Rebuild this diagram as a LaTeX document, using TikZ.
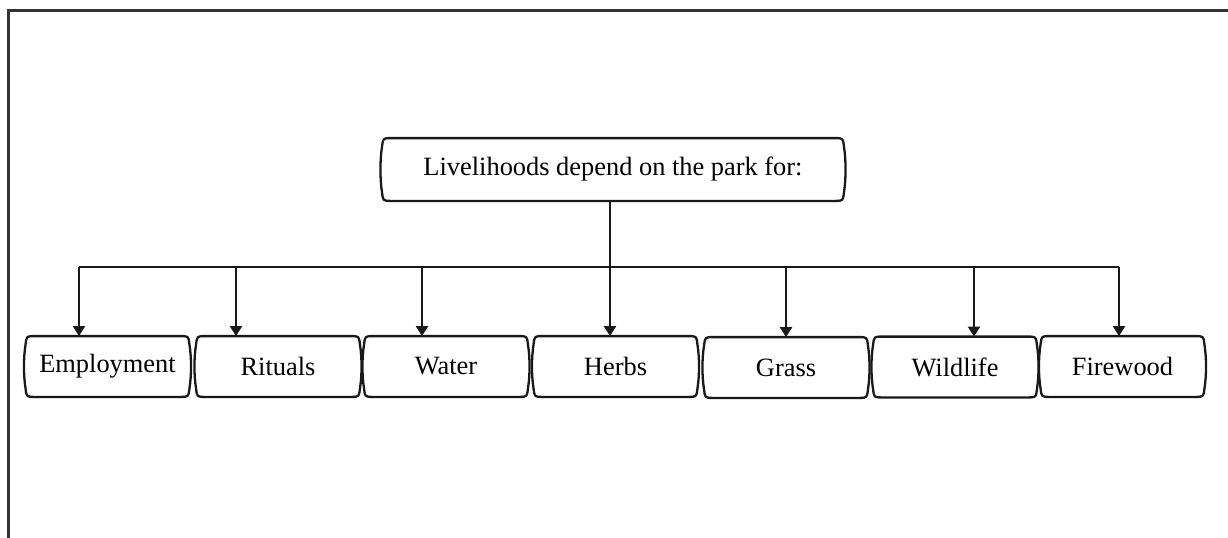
\documentclass[tikz,border=0pt]{standalone}
\usepackage{fontspec}
\setmainfont{Liberation Serif}
\usetikzlibrary{arrows.meta}
% outline with rounded corners and slightly bowed sides around a named node
\newcommand\softbox[1]{%
  \draw[boxline] ([xshift=4pt]#1.north west) -- ([xshift=-4pt]#1.north east)
    .. controls (#1.north east) .. ([xshift=0.5pt,yshift=-4pt]#1.north east)
    .. controls ([xshift=1.6pt,yshift=-11pt]#1.north east) and ([xshift=1.6pt,yshift=11pt]#1.south east) .. ([xshift=0.5pt,yshift=4pt]#1.south east)
    .. controls (#1.south east) .. ([xshift=-4pt]#1.south east)
    -- ([xshift=4pt]#1.south west)
    .. controls (#1.south west) .. ([xshift=-0.5pt,yshift=4pt]#1.south west)
    .. controls ([xshift=-1.6pt,yshift=11pt]#1.south west) and ([xshift=-1.6pt,yshift=-11pt]#1.north west) .. ([xshift=-0.5pt,yshift=-4pt]#1.north west)
    .. controls (#1.north west) .. ([xshift=4pt]#1.north west) -- cycle;}
\begin{document}
\begin{tikzpicture}[x=0.5pt,y=0.5pt,
  frame/.style={draw=black!80,line width=1.3pt},
  boxline/.style={draw=black!90,line width=1.15pt,line join=round},
  box/.style={rectangle,minimum width=80.5pt,minimum height=30pt,inner sep=0pt,
    font=\fontsize{13.2pt}{15pt}\selectfont},
  link/.style={draw=black!90,line width=1.1pt},
  arr/.style={link,-{Triangle[width=6pt,length=5pt]}}]
\useasboundingbox (0,0) rectangle (1228,-537);
% open frame: top and left edges only
\draw[frame] (8.5,-545) -- (8.5,-10.5) -- (1240,-10.5);

% root
\node[box,minimum width=229.5pt,minimum height=31pt] (root) at (613,-169.5)
  {Livelihoods depend on the park for:};

% leaves
\node[box] (emp)  at (107.5,-366.5) {Employment};
\node[box] (rit)  at (278,-366.5)   {Rituals};
\node[box] (wat)  at (446,-366.5)   {Water};
\node[box] (herb) at (615.5,-366.5) {Herbs};
\node[box] (gra)  at (786,-367.5)   {Grass};
\node[box] (wild) at (955,-367)     {Wildlife};
\node[box] (fire) at (1122.5,-366.5)  {Firewood};

\foreach \n in {root,emp,rit,wat,herb,gra,wild,fire} {\softbox{\n}}

% bus points
\coordinate (b1) at (79,-267);
\coordinate (b2) at (236,-267);
\coordinate (b3) at (422,-267);
\coordinate (b4) at (610,-267);
\coordinate (b5) at (786,-267);
\coordinate (b6) at (974,-267);
\coordinate (b7) at (1119,-267);

\draw[link] (b1) -- (b7);
\draw[arr] (root.south -| b4) -- (b4 |- herb.north);
\draw[arr] (b1) -- (b1 |- emp.north);
\draw[arr] (b2) -- (b2 |- rit.north);
\draw[arr] (b3) -- (b3 |- wat.north);
\draw[arr] (b5) -- (b5 |- gra.north);
\draw[arr] (b6) -- (b6 |- wild.north);
\draw[arr] (b7) -- (b7 |- fire.north);
\end{tikzpicture}
\end{document}
